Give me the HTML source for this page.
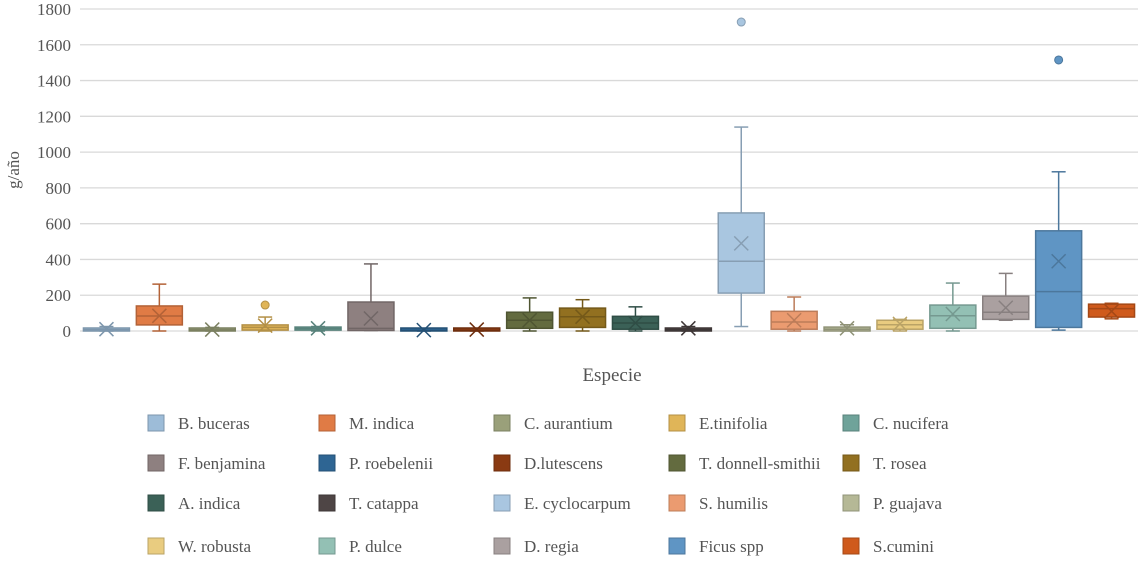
<!DOCTYPE html>
<html><head><meta charset="utf-8"><style>
body{margin:0;background:#fff;font-family:"Liberation Serif",serif;}
svg text{font-family:"Liberation Serif",serif;fill:#555;}
</style></head><body>
<svg id="c" width="1143" height="568"></svg>
<script>
const categories=["B. buceras","M. indica","C. aurantium","E.tinifolia","C. nucifera","F. benjamina","P. roebelenii","D.lutescens","T. donnell-smithii","T. rosea","A. indica","T. catappa","E. cyclocarpum","S. humilis","P. guajava","W. robusta","P. dulce","D. regia","Ficus spp","S.cumini"];
const colors=["#9dbcd8","#e07b45","#9aa07a","#e0b558","#6fa39a","#8e8080","#2e6593","#8a3a12","#636b3f","#927020","#3b6157","#4e4545","#a9c6e0","#eb9b70","#b5b896","#e9cc80","#93c0b4","#aaa0a0","#5f95c4","#cf5a1c"];
const whiskerLow=[0,0,0,0,0,3,0,0,0,0,0,0,25,0,0,0,0,60,5,68];
const q1=[0,34,0,5,5,3,0,0,15,20,10,0,212,10,0,10,15,65,20,78];
const median=[8,84,6,20,14,15,3,3,60,80,45,8,390,50,10,35,85,105,220,125];
const q3=[15,140,12,34,22,162,5,5,105,128,82,15,660,110,22,60,145,195,560,150];
const whiskerHigh=[25,262,20,78,25,375,10,15,185,175,135,25,1140,190,35,65,268,322,890,155];
const means=[10,85,8,30,15,70,5,8,60,80,45,15,490,60,15,40,95,130,390,110];
const outlierCat=[3,12,18];
const outlierVal=[145,1727,1515];
const yTicks=[0,200,400,600,800,1000,1200,1400,1600,1800];
const NS="http://www.w3.org/2000/svg";
const svg=document.getElementById('c');
const L=80,R=1138,T=9,B=331,YMAX=1800;
const y=v=>B-(v/YMAX)*(B-T);
const bw=(R-L)/categories.length;
const xc=i=>L+bw*(i+0.5);
function mk(tag,attrs,parent){const e=document.createElementNS(NS,tag);for(const k in attrs)e.setAttribute(k,attrs[k]);(parent||svg).appendChild(e);return e;}
function dark(hex,f){const n=parseInt(hex.slice(1),16);let r=(n>>16)*f,g=((n>>8)&255)*f,b=(n&255)*f;return `rgb(${r|0},${g|0},${b|0})`;}
yTicks.forEach(t=>{
 const g=mk('line',{x1:L,x2:R,y1:y(t),y2:y(t),stroke:'#d9d9d9','stroke-width':1.3});
 
 
 const tx=mk('text',{x:71,y:y(t)+6,'text-anchor':'end','font-size':17});
 tx.textContent=t;
 
 
});
categories.forEach((c,i)=>{
 const g=mk('g',{});
 
 
 const col=colors[i],st=dark(col,0.8),x=xc(i),w=46;
 mk('line',{x1:x,x2:x,y1:y(whiskerHigh[i]),y2:y(q3[i]),stroke:st,'stroke-width':1.5},g);
 mk('line',{x1:x,x2:x,y1:y(q1[i]),y2:y(whiskerLow[i]),stroke:st,'stroke-width':1.5},g);
 mk('line',{x1:x-7,x2:x+7,y1:y(whiskerHigh[i]),y2:y(whiskerHigh[i]),stroke:st,'stroke-width':1.5},g);
 mk('line',{x1:x-7,x2:x+7,y1:y(whiskerLow[i]),y2:y(whiskerLow[i]),stroke:st,'stroke-width':1.5},g);
 const h=Math.max(y(q1[i])-y(q3[i]),3);
 mk('rect',{x:x-w/2,y:y(q1[i])-h,width:w,height:h,fill:col,stroke:st,'stroke-width':1.5},g);
 mk('line',{x1:x-w/2,x2:x+w/2,y1:y(median[i]),y2:y(median[i]),stroke:st,'stroke-width':1.5},g);
 const my=y(means[i]);
 mk('path',{d:`M${x-7},${my-7}L${x+7},${my+7}M${x+7},${my-7}L${x-7},${my+7}`,stroke:st,'stroke-width':1.5,fill:'none'},g);
});
outlierCat.forEach((ci,k)=>{
 const o=mk('circle',{cx:xc(ci),cy:y(outlierVal[k]),r:4,fill:colors[ci],stroke:dark(colors[ci],0.8)});
 
 
});
const yt=mk('text',{x:0,y:0,'font-size':17,'text-anchor':'middle',transform:'translate(19,170) rotate(-90)'});
yt.textContent='g/año';


const xt=mk('text',{x:612,y:381,'font-size':19,'text-anchor':'middle'});
xt.textContent='Especie';


const colX=[148,319,494,669,843],rowY=[423,463,503,546];
categories.forEach((c,i)=>{
 const g=mk('g',{});
 
 
 const lx=colX[i%5],ly=rowY[Math.floor(i/5)];
 mk('rect',{x:lx,y:ly-8,width:16,height:16,fill:colors[i],stroke:dark(colors[i],0.8)},g);
 const t=mk('text',{x:lx+30,y:ly+6,'font-size':17},g);
 t.textContent=c;
});
</script>
</body></html>
